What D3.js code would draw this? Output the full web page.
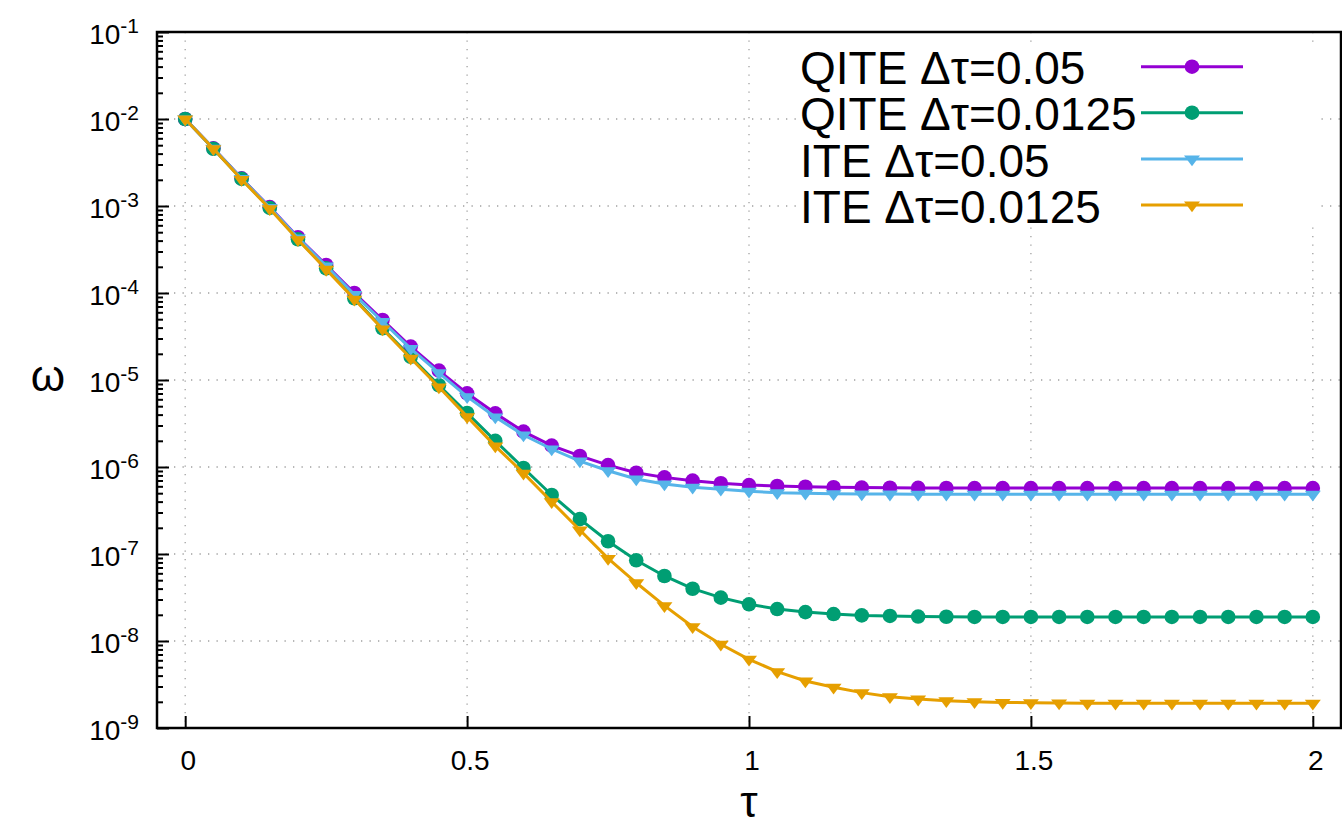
<!DOCTYPE html>
<html><head><meta charset="utf-8">
<script src="https://cdn.jsdelivr.net/npm/d3@7"></script>
<style>html,body{margin:0;padding:0;background:#fff;} svg{display:block;font-family:"Liberation Sans",Arial,Helvetica,sans-serif;}</style>
</head><body>
<svg id="chart" width="1342" height="823"></svg>
<script>
const tau = [0,0.05,0.1,0.15,0.2,0.25,0.3,0.35,0.4,0.45,0.5,0.55,0.6,0.65,0.7,0.75,0.8,0.85,0.9,0.95,1.0,
  1.05,1.1,1.15,1.2,1.25,1.3,1.35,1.4,1.45,1.5,1.55,1.6,1.65,1.7,1.75,1.8,1.85,1.9,1.95,2.0];
const qite005 = [1.0e-2,4.6e-3,2.08e-3,9.7e-4,4.37e-4,2.1e-4,1.0e-4,4.9e-5,2.42e-5,1.28e-5,7.03e-6,4.14e-6,2.55e-6,1.76e-6,1.34e-6,1.05e-6,8.6e-7,7.6e-7,6.97e-7,6.5e-7,6.2e-7,
  6.05e-7,5.94e-7,5.85e-7,5.8e-7,5.77e-7,5.75e-7,5.74e-7,5.73e-7,5.72e-7,5.72e-7,5.72e-7,5.72e-7,5.72e-7,5.72e-7,5.72e-7,5.72e-7,5.72e-7,5.72e-7,5.72e-7,5.72e-7];
const qite00125 = [1.0e-2,4.55e-3,2.05e-3,9.5e-4,4.14e-4,1.92e-4,8.7e-5,3.93e-5,1.85e-5,8.7e-6,4.18e-6,2.0e-6,9.75e-7,4.77e-7,2.52e-7,1.4e-7,8.47e-8,5.59e-8,3.99e-8,3.15e-8,2.64e-8,
  2.33e-8,2.15e-8,2.04e-8,1.97e-8,1.94e-8,1.91e-8,1.9e-8,1.89e-8,1.89e-8,1.89e-8,1.89e-8,1.89e-8,1.89e-8,1.89e-8,1.89e-8,1.89e-8,1.89e-8,1.89e-8,1.89e-8,1.89e-8];
const ite005 = [1.0e-2,4.6e-3,2.07e-3,9.6e-4,4.3e-4,2.05e-4,9.6e-5,4.7e-5,2.3e-5,1.21e-5,6.43e-6,3.76e-6,2.33e-6,1.61e-6,1.17e-6,9.06e-7,7.28e-7,6.38e-7,5.85e-7,5.55e-7,5.26e-7,
  5.07e-7,4.99e-7,4.93e-7,4.9e-7,4.88e-7,4.87e-7,4.86e-7,4.86e-7,4.86e-7,4.86e-7,4.86e-7,4.86e-7,4.86e-7,4.86e-7,4.86e-7,4.86e-7,4.86e-7,4.86e-7,4.86e-7,4.86e-7];
const ite00125 = [1.0e-2,4.55e-3,2.02e-3,9.3e-4,4.1e-4,1.87e-4,8.5e-5,3.85e-5,1.78e-5,8.3e-6,3.79e-6,1.74e-6,8.5e-7,3.99e-7,1.89e-7,8.9e-8,4.67e-8,2.55e-8,1.46e-8,9.16e-9,6.16e-9,
  4.44e-9,3.47e-9,2.94e-9,2.55e-9,2.29e-9,2.15e-9,2.06e-9,2.0e-9,1.97e-9,1.95e-9,1.94e-9,1.93e-9,1.93e-9,1.93e-9,1.93e-9,1.93e-9,1.93e-9,1.93e-9,1.93e-9,1.93e-9];
const seriesNames = ["QITE \u0394\u03c4=0.05","QITE \u0394\u03c4=0.0125","ITE \u0394\u03c4=0.05","ITE \u0394\u03c4=0.0125"];
const seriesColors = ["#9400d3","#009e73","#56b4e9","#e69f00"];
const seriesMarkers = ["circle","circle","triangle","triangle"];
const seriesData = [qite005, qite00125, ite005, ite00125];
const xTicks = [0,0.5,1,1.5,2];
const xTickLabels = ["0","0.5","1","1.5","2"];
const yExponents = [-9,-8,-7,-6,-5,-4,-3,-2,-1];

const svg = d3.select("#chart");
const L = 157, R = 1341, T = 32, B = 728;
const x = d3.scaleLinear().domain([-0.05, 2.05]).range([L, R]);
const y = d3.scaleLog().domain([1e-9, 1e-1]).range([B, T]);

// grid
const grid = svg.append("g");
xTicks.forEach(t => grid.append("line").attr("x1", x(t)).attr("x2", x(t)).attr("y1", T).attr("y2", B)
  .attr("stroke", "#a0a0a0").attr("stroke-width", 1.3).attr("stroke-dasharray", "1.3,7.2"));
yExponents.forEach(e => grid.append("line").attr("x1", L).attr("x2", R).attr("y1", y(Math.pow(10, e))).attr("y2", y(Math.pow(10, e)))
  .attr("stroke", "#a0a0a0").attr("stroke-width", 1.3).attr("stroke-dasharray", "1.3,7.2"));

// axes ticks
const xAxis = d3.axisBottom(x).tickValues(xTicks).tickSize(-12).tickFormat("");
svg.append("g").attr("transform", `translate(0,${B})`).call(xAxis)
  .call(g => g.select(".domain").remove())
  .call(g => g.selectAll("line").attr("stroke", "#000").attr("stroke-width", 2));
const minorVals = [];
yExponents.forEach(e => { if (e < -1) for (let k = 2; k <= 9; k++) minorVals.push(k * Math.pow(10, e)); });
svg.append("g").attr("transform", `translate(${L},0)`)
  .call(d3.axisLeft(y).tickValues(minorVals).tickSize(-6).tickFormat(""))
  .call(g => g.select(".domain").remove())
  .call(g => g.selectAll("line").attr("stroke", "#000").attr("stroke-width", 2));
svg.append("g").attr("transform", `translate(${L},0)`)
  .call(d3.axisLeft(y).tickValues(yExponents.map(e => Math.pow(10, e))).tickSize(-12).tickFormat(""))
  .call(g => g.select(".domain").remove())
  .call(g => g.selectAll("line").attr("stroke", "#000").attr("stroke-width", 2));

// tick labels
xTicks.forEach((t, i) => svg.append("text").attr("x", x(t) + 3).attr("y", 770).attr("text-anchor", "middle")
  .attr("font-size", 28).text(xTickLabels[i]));
yExponents.forEach(e => {
  const tx = svg.append("text").attr("x", 139).attr("y", y(Math.pow(10, e)) + 12).attr("text-anchor", "end").attr("font-size", 28);
  tx.append("tspan").text("10");
  tx.append("tspan").attr("dy", -11).attr("font-size", 21).text(String(e));
});

// axis titles
svg.append("text").attr("x", 48).attr("y", 391).attr("text-anchor", "middle").attr("font-size", 44).text("\u03c9");
svg.append("text").attr("x", 749).attr("y", 817).attr("text-anchor", "middle").attr("font-size", 44).text("\u03c4");

// data
const line = d3.line().x((d, i) => x(tau[i])).y(d => y(d));
const triPath = "M-8,-3.5L8,-3.5L0,7.3Z";
seriesData.forEach((vals, s) => {
  const g = svg.append("g");
  g.append("path").datum(vals).attr("d", line).attr("fill", "none").attr("stroke", seriesColors[s]).attr("stroke-width", 3);
  if (seriesMarkers[s] === "circle") {
    g.selectAll("circle").data(vals).join("circle").attr("cx", (d, i) => x(tau[i])).attr("cy", d => y(d)).attr("r", 7.3).attr("fill", seriesColors[s]);
  } else {
    g.selectAll("path.m").data(vals).join("path").attr("class", "m").attr("d", triPath)
      .attr("transform", (d, i) => `translate(${x(tau[i])},${y(d)})`).attr("fill", seriesColors[s]);
  }
});

// legend (opaque)
const lg = svg.append("g");
lg.append("rect").attr("x", 800).attr("y", 46).attr("width", 520).attr("height", 180).attr("fill", "#fff");
const rowY = [66.7, 112.7, 159, 205];
seriesNames.forEach((n, s) => {
  lg.append("text").attr("x", 800).attr("y", rowY[s] + 17.5).attr("font-size", 46).text(n);
  lg.append("line").attr("x1", 1141).attr("x2", 1243).attr("y1", rowY[s]).attr("y2", rowY[s]).attr("stroke", seriesColors[s]).attr("stroke-width", 3);
  if (seriesMarkers[s] === "circle") lg.append("circle").attr("cx", 1192).attr("cy", rowY[s]).attr("r", 7.3).attr("fill", seriesColors[s]);
  else lg.append("path").attr("d", triPath).attr("transform", `translate(1192,${rowY[s]})`).attr("fill", seriesColors[s]);
});

// frame
svg.append("rect").attr("x", L).attr("y", T).attr("width", R - L).attr("height", B - T)
  .attr("fill", "none").attr("stroke", "#000").attr("stroke-width", 2.5);
</script>
</body></html>
